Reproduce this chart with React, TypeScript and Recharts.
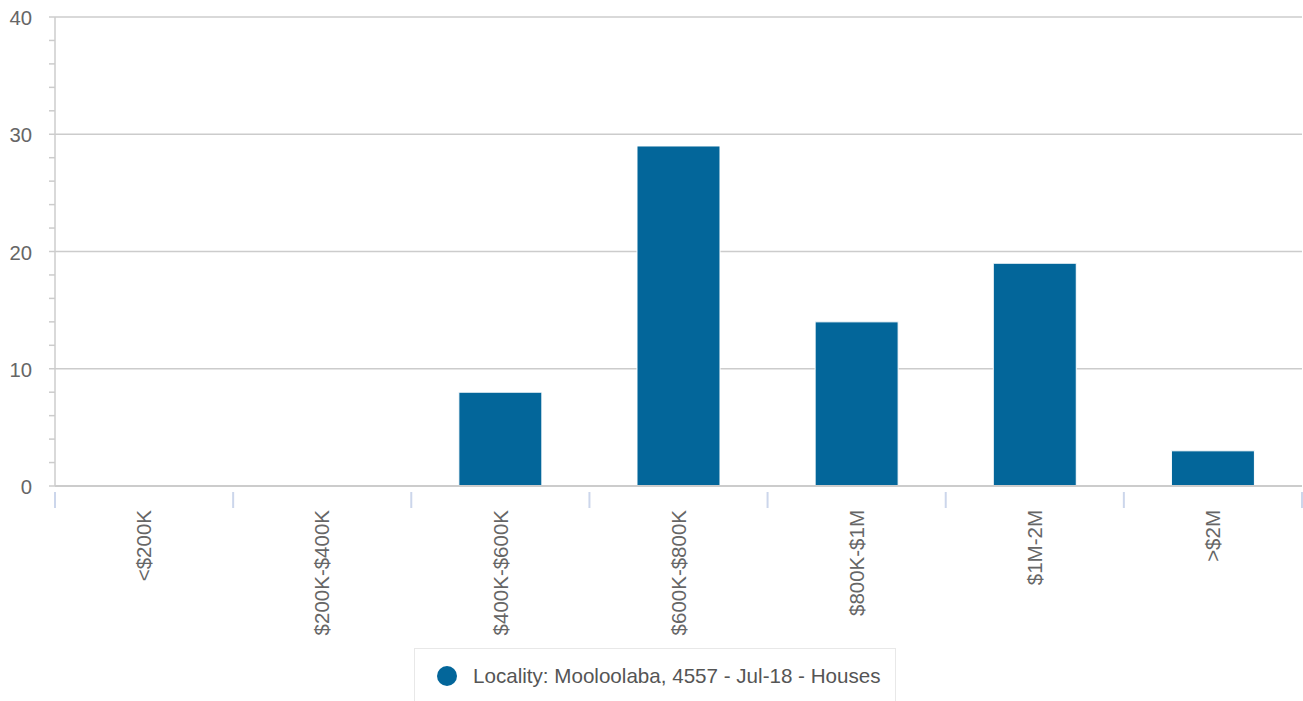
import React from "react";
import { BarChart, Bar, XAxis, YAxis, CartesianGrid } from "recharts";

const categories = ["<$200K", "$200K-$400K", "$400K-$600K", "$600K-$800K", "$800K-$1M", "$1M-2M", ">$2M"];
const values = [0, 0, 8, 29, 14, 19, 3];
const seriesName = "Locality: Mooloolaba, 4557 - Jul-18 - Houses";
const yTicks = [0, 2, 4, 6, 8, 10, 12, 14, 16, 18, 20, 22, 24, 26, 28, 30, 32, 34, 36, 38, 40];
const majorTicks = [10, 20, 30, 40];

const data = categories.map((c, i) => ({ name: c, value: values[i] }));

const FONT = '"Liberation Sans", Arial, Helvetica, sans-serif';
const BAR_COLOR = "#03669a";
const PLOT_LEFT = 55;
const PLOT_RIGHT = 1302;

const YTick = (props: any) => {
  const { x, y, payload } = props;
  if (payload.value % 10 !== 0) return null;
  return (
    <text x={x} y={y} dy={8} textAnchor="end" fill="#666" fontSize={20.3} fontFamily={FONT}>
      {payload.value}
    </text>
  );
};

const XTick = (props: any) => {
  const { x, y, payload, index } = props;
  const half = payload.offset ?? (PLOT_RIGHT - PLOT_LEFT) / categories.length / 2;
  return (
    <g>
      <line x1={x - half} x2={x - half} y1={y - 2} y2={y + 14} stroke="#ccd6eb" strokeWidth={2} />
      {index === categories.length - 1 && (
        <line x1={x + half} x2={x + half} y1={y - 2} y2={y + 14} stroke="#ccd6eb" strokeWidth={2} />
      )}
      <text
        transform={`translate(${x},${y + 16}) rotate(-90)`}
        dy="0.35em"
        textAnchor="end"
        fill="#666"
        fontSize={20.5}
        fontFamily={FONT}
      >
        {payload.value}
      </text>
    </g>
  );
};

export default function App() {
  return (
    <div style={{ position: "absolute", left: 0, top: 0, width: 1303, height: 701, background: "#fff" }}>
      <BarChart
        width={1303}
        height={701}
        data={data}
        margin={{ top: 17, right: 1, left: 0, bottom: 65 }}
        barCategoryGap="26.7%"
      >
        <CartesianGrid
          vertical={false}
          horizontalValues={majorTicks}
          stroke="#cccccc"
          strokeWidth={1.5}
        />
        <XAxis
          dataKey="name"
          interval={0}
          height={150}
          tickLine={false}
          axisLine={{ stroke: "#cccccc", strokeWidth: 2 }}
          tick={<XTick />}
        />
        <YAxis
          domain={[0, 40]}
          ticks={yTicks}
          interval={0}
          width={55}
          tickSize={6}
          tickMargin={17}
          tickLine={{ stroke: "#cccccc", strokeWidth: 1.5 }}
          axisLine={{ stroke: "#cccccc", strokeWidth: 1.5 }}
          tick={<YTick />}
        />
        <Bar dataKey="value" name={seriesName} fill={BAR_COLOR} stroke="#ffffff" strokeWidth={1} isAnimationActive={false} />
      </BarChart>
      <div
        style={{
          position: "absolute",
          left: 414,
          top: 648,
          width: 482,
          height: 60,
          border: "1px solid #e8e8e8",
          boxSizing: "border-box",
          display: "flex",
          alignItems: "center",
          paddingLeft: 22,
          paddingBottom: 4,
          fontFamily: FONT,
          fontSize: 20.6,
          color: "#555",
          whiteSpace: "nowrap",
        }}
      >
        <span
          style={{
            display: "inline-block",
            width: 20,
            height: 20,
            borderRadius: "50%",
            background: BAR_COLOR,
            marginRight: 16,
          }}
        />
        <span>{seriesName}</span>
      </div>
    </div>
  );
}
